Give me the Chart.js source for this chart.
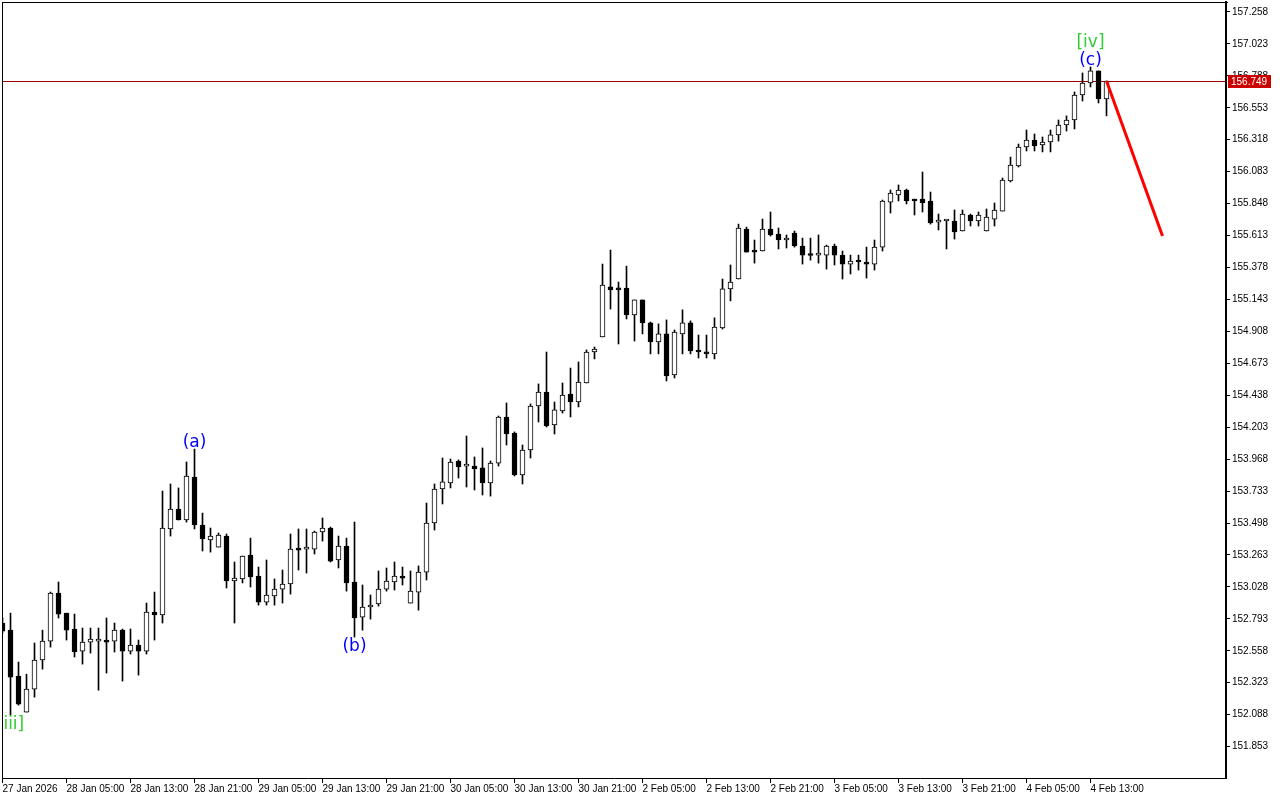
<!DOCTYPE html>
<html>
<head>
<meta charset="utf-8">
<script src="https://cdn.jsdelivr.net/npm/chart.js@4.4.1/dist/chart.umd.min.js"></script>
<style>
html, body { margin: 0; padding: 0; background: #fff; }
#chart { display: block; }
</style>
</head>
<body>
<canvas id="chart" width="1280" height="800"></canvas>
<script>
// hourly candles, 27 Jan 21:00 .. 4 Feb 15:00
var opens = [152.762,152.710,152.371,152.107,152.276,152.490,152.629,152.983,152.835,152.718,
152.556,152.622,152.629,152.637,152.629,152.710,152.556,152.600,152.556,152.843,
152.821,153.454,153.601,153.520,153.836,153.483,153.373,153.321,153.402,153.071,
153.086,153.262,153.108,152.916,152.961,153.012,153.049,153.314,153.306,153.306,
153.432,153.461,153.226,153.329,153.064,152.806,152.880,152.902,153.012,153.064,
153.108,152.909,152.990,153.137,153.498,153.748,153.792,153.954,153.917,153.917,
153.903,153.792,153.939,154.278,154.160,153.851,154.035,154.359,154.462,154.219,
154.322,154.447,154.388,154.528,154.756,154.867,155.235,155.227,155.227,155.028,
155.139,154.970,154.830,154.889,154.587,154.889,154.970,154.771,154.756,154.742,
154.933,155.220,155.293,155.661,155.506,155.499,155.661,155.624,155.580,155.631,
155.536,155.469,155.469,155.469,155.536,155.469,155.403,155.425,155.418,155.403,
155.528,155.859,155.911,155.948,155.881,155.881,155.867,155.712,155.720,155.720,
155.646,155.764,155.720,155.646,155.734,155.793,156.014,156.125,156.264,156.316,
156.279,156.301,156.353,156.426,156.463,156.647,156.735,156.824,156.618];
var highs = [152.799,152.835,152.475,152.386,152.615,152.710,152.990,153.064,152.835,152.828,
152.725,152.725,152.725,152.799,152.762,152.718,152.718,152.637,152.909,152.990,
153.733,153.785,153.756,153.947,154.042,153.571,153.461,153.424,153.417,153.211,
153.255,153.387,153.174,153.226,153.086,153.152,153.417,153.454,153.454,153.439,
153.535,153.468,153.402,153.387,153.505,153.042,152.968,153.145,153.167,153.211,
153.174,153.145,153.182,153.645,153.785,153.976,153.969,153.962,154.138,153.984,
154.050,153.954,154.285,154.381,154.168,154.072,154.374,154.521,154.756,154.388,
154.528,154.638,154.683,154.771,154.793,155.403,155.506,155.271,155.388,155.139,
155.139,154.977,154.963,154.992,154.918,155.066,154.985,154.881,154.881,155.007,
155.293,155.396,155.697,155.675,155.580,155.734,155.786,155.668,155.617,155.646,
155.594,155.594,155.617,155.543,155.550,155.499,155.469,155.469,155.528,155.580,
155.874,155.948,155.985,155.955,155.881,156.080,155.933,155.771,155.727,155.801,
155.801,155.771,155.786,155.808,155.852,156.036,156.190,156.286,156.389,156.360,
156.338,156.389,156.463,156.493,156.669,156.809,156.853,156.824,156.750];
var lows = [152.688,152.085,152.158,152.107,152.217,152.423,152.585,152.799,152.637,152.512,
152.460,152.541,152.268,152.394,152.549,152.335,152.534,152.379,152.534,152.637,
152.762,153.402,153.520,153.505,153.454,153.292,153.284,153.321,153.020,152.762,
153.057,153.027,152.894,152.894,152.894,152.909,152.975,153.152,153.130,153.270,
153.365,153.211,153.167,152.997,152.659,152.710,152.791,152.887,152.997,153.005,
153.042,152.909,152.857,153.079,153.446,153.638,153.756,153.829,153.763,153.741,
153.704,153.696,153.917,154.072,153.844,153.785,153.976,154.241,154.204,154.153,
154.307,154.278,154.352,154.528,154.705,154.867,155.072,154.815,154.999,154.837,
154.889,154.742,154.742,154.543,154.565,154.742,154.742,154.712,154.712,154.705,
154.925,155.132,155.293,155.491,155.410,155.499,155.609,155.514,155.521,155.528,
155.403,155.432,155.410,155.366,155.396,155.293,155.330,155.359,155.300,155.359,
155.499,155.779,155.867,155.845,155.764,155.786,155.697,155.654,155.514,155.587,
155.646,155.683,155.683,155.646,155.683,155.793,156.007,156.117,156.235,156.235,
156.228,156.228,156.308,156.382,156.397,156.603,156.706,156.588,156.493];
var closes = [152.703,152.364,152.166,152.276,152.490,152.629,152.983,152.828,152.710,152.549,
152.622,152.644,152.644,152.622,152.710,152.556,152.600,152.556,152.843,152.821,
153.461,153.601,153.520,153.844,153.483,153.380,153.402,153.409,153.071,153.093,
153.255,153.101,152.916,152.968,153.012,153.049,153.306,153.299,153.314,153.432,
153.461,153.218,153.329,153.057,152.799,152.880,152.894,153.012,153.071,153.108,
153.093,152.997,153.137,153.498,153.748,153.800,153.947,153.910,153.925,153.895,
153.792,153.939,154.278,154.153,153.851,154.035,154.359,154.462,154.212,154.330,
154.440,154.388,154.535,154.756,154.778,155.249,155.213,155.213,155.028,155.139,
154.970,154.830,154.889,154.580,154.903,154.970,154.764,154.756,154.742,154.940,
155.220,155.271,155.668,155.491,155.491,155.661,155.617,155.580,155.594,155.536,
155.469,155.466,155.469,155.536,155.469,155.403,155.425,155.418,155.403,155.528,
155.867,155.926,155.948,155.867,155.867,155.852,155.705,155.712,155.720,155.639,
155.771,155.720,155.764,155.749,155.801,156.021,156.132,156.264,156.316,156.272,
156.301,156.353,156.426,156.463,156.647,156.735,156.824,156.618,156.749];

// time labels, one every 8 bars
var xLabels = ["27 Jan 2026","28 Jan 05:00","28 Jan 13:00","28 Jan 21:00","29 Jan 05:00",
  "29 Jan 13:00","29 Jan 21:00","30 Jan 05:00","30 Jan 13:00","30 Jan 21:00","2 Feb 05:00",
  "2 Feb 13:00","2 Feb 21:00","3 Feb 05:00","3 Feb 13:00","3 Feb 21:00","4 Feb 05:00","4 Feb 13:00"];
var yTicks = [157.258,157.023,156.788,156.553,156.318,156.083,155.848,155.613,155.378,155.143,
  154.908,154.673,154.438,154.203,153.968,153.733,153.498,153.263,153.028,152.793,
  152.558,152.323,152.088,151.853];
var yMin = 151.622, yMax = 157.331;
var xMin = -0.0625, xMax = 152.9375;

// forecast line (bar index, price)
var projBars = [138, 145];
var projPrices = [156.749, 155.610];

// wave marks
var waveText = ["[iii]", "(a)", "(b)", "(c)", "[iv]"];
var waveBar = [1, 24, 44, 136, 136];
var waveSide = ["below", "above", "below", "above", "above"];
var waveLevel = [1, 1, 1, 1, 2];
var waveColor = ["#32cd32", "#0000ff", "#0000ff", "#0000ff", "#32cd32"];

var bodies = [], wicks = [], bodyFill = [];
for (var i = 0; i < opens.length; i++) {
  bodies.push({x: i, y: [opens[i], closes[i]]});
  wicks.push({x: i, y: [lows[i], highs[i]]});
  bodyFill.push(closes[i] >= opens[i] ? "#ffffff" : "#000000");
}
var proj = [];
for (var k = 0; k < projBars.length; k++) proj.push({x: projBars[k], y: projPrices[k]});

Chart.defaults.font.family = "'Liberation Sans', Arial, sans-serif";
Chart.defaults.font.size = 10;
Chart.defaults.color = "#000";

var lastClose = closes[closes.length - 1];

var mtPlugin = {
  id: "mt",
  beforeDatasetsDraw: function(chart) {
    var ctx = chart.ctx, ca = chart.chartArea;
    var y = chart.scales.y.getPixelForValue(lastClose);
    ctx.save();
    ctx.fillStyle = "#a00000";
    ctx.fillRect(ca.left, Math.floor(y), ca.right - ca.left, 1);
    ctx.restore();
  },
  afterDraw: function(chart) {
    var ctx = chart.ctx, ca = chart.chartArea;
    var xs = chart.scales.x, ys = chart.scales.y;
    ctx.save();
    // frame
    ctx.fillStyle = "#000";
    ctx.fillRect(ca.left, ca.top, 1, ca.bottom - ca.top);
    ctx.fillRect(ca.left, ca.top, ca.right - ca.left + 2, 1);
    // wave labels
    ctx.save();
    ctx.beginPath();
    ctx.rect(ca.left, ca.top, ca.right - ca.left, ca.bottom - ca.top);
    ctx.clip();
    ctx.font = "17px 'DejaVu Sans'";
    ctx.textAlign = "center";
    ctx.textBaseline = "middle";
    for (var w = 0; w < waveText.length; w++) {
      var b = waveBar[w];
      var x = xs.getPixelForValue(b);
      var y;
      if (waveSide[w] == "above") y = ys.getPixelForValue(highs[b]) - (waveLevel[w] == 1 ? 6 : 24);
      else y = ys.getPixelForValue(lows[b]) + 10;
      ctx.fillStyle = waveColor[w];
      ctx.fillText(waveText[w], x, y);
    }
    ctx.restore();
    // current price box
    var py = ys.getPixelForValue(lastClose);
    ctx.fillStyle = "#cc0000";
    ctx.fillRect(ca.right + 2, Math.round(py) - 6, 43, 13);
    ctx.fillStyle = "#fff";
    ctx.font = "10px 'Liberation Sans'";
    ctx.textAlign = "left";
    ctx.textBaseline = "middle";
    ctx.fillText(lastClose.toFixed(3), ca.right + 5, Math.round(py) + 1);
    ctx.restore();
  }
};

new Chart(document.getElementById("chart"), {
  data: {
    datasets: [
      {
        type: "line",
        data: proj,
        borderColor: "#ff0000",
        borderWidth: 3,
        pointRadius: 0,
        order: -1
      },
      {
        type: "bar",
        data: bodies,
        backgroundColor: bodyFill,
        borderColor: "#000",
        borderWidth: 1,
        borderSkipped: false,
        barThickness: 5,
        minBarLength: 2,
        grouped: false,
        order: 0
      },
      {
        type: "bar",
        data: wicks,
        backgroundColor: "#000",
        borderWidth: 0,
        barThickness: 1,
        grouped: false,
        order: 1
      }
    ]
  },
  options: {
    responsive: false,
    animation: false,
    devicePixelRatio: 1,
    layout: { padding: { left: 2, top: 2, right: 0, bottom: 0 } },
    plugins: { legend: { display: false }, tooltip: { enabled: false } },
    scales: {
      x: {
        type: "linear",
        min: xMin,
        max: xMax,
        offset: false,
        grid: { drawOnChartArea: false, drawTicks: true, tickLength: 5, color: "#000", offset: false },
        border: { display: true, color: "#000", width: 1 },
        ticks: {
          autoSkip: false,
          maxRotation: 0,
          align: "start",
          padding: 0,
          callback: function(v, idx) { return xLabels[idx]; }
        },
        afterBuildTicks: function(s) {
          s.ticks = xLabels.map(function(l, n) { return {value: n * 8}; });
        },
        afterFit: function(s) { s.height = 22; s.paddingLeft = 0; s.paddingRight = 0; }
      },
      y: {
        position: "right",
        min: yMin,
        max: yMax,
        grid: { drawOnChartArea: false, drawTicks: true, tickLength: 4, color: "#000" },
        border: { display: true, color: "#000", width: 2 },
        ticks: {
          padding: 2,
          callback: function(v) { return v.toFixed(3); }
        },
        afterBuildTicks: function(s) {
          s.ticks = yTicks.map(function(v) { return {value: v}; });
        },
        afterFit: function(s) { s.width = 54; s.paddingTop = 0; s.paddingBottom = 0; }
      }
    }
  },
  plugins: [mtPlugin]
});
</script>
</body>
</html>
